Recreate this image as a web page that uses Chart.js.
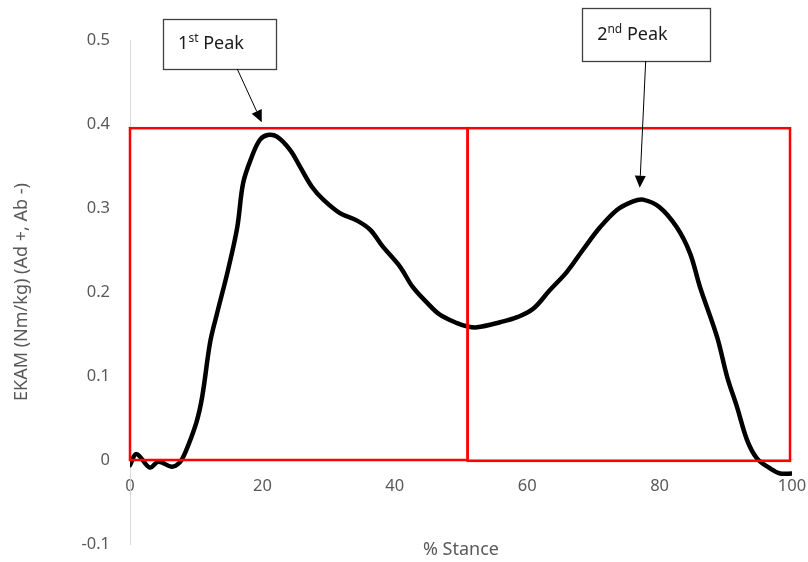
<!DOCTYPE html>
<html><head><meta charset="utf-8">
<script src="https://cdn.jsdelivr.net/npm/chart.js@4.4.1/dist/chart.umd.min.js"></script>
<style>html,body{margin:0;padding:0;background:#fff}canvas{display:block}</style>
</head><body>
<canvas id="c" width="808" height="562"></canvas>
<script>
// ---- data ----
const stance = [0, 1, 3, 4.3, 6.3, 7.5, 8.3, 10, 10.9, 12.1, 13.1, 14.8, 16.2, 17.1, 18.4, 19.6, 20.8, 22.2, 24.2, 25.7, 27.5, 29.2, 31.7, 34.3, 36.3, 38.2, 40.8, 42.7, 44.9, 46.8, 49.4, 51, 52.4, 55.9, 58.5, 60.9, 63.4, 66, 68.4, 71, 73.6, 76, 77.5, 80, 82.6, 84.6, 86.1, 88.7, 90.2, 91.7, 93.2, 94.7, 96.7, 98.2, 100];
const ekam = [-0.006, 0.007, -0.009, -0.002, -0.008, -0.003, 0.008, 0.044, 0.075, 0.140, 0.173, 0.226, 0.277, 0.330, 0.361, 0.381, 0.387, 0.385, 0.369, 0.349, 0.325, 0.310, 0.294, 0.285, 0.274, 0.254, 0.230, 0.206, 0.187, 0.173, 0.163, 0.159, 0.158, 0.164, 0.170, 0.180, 0.202, 0.224, 0.250, 0.277, 0.298, 0.308, 0.310, 0.301, 0.277, 0.246, 0.206, 0.146, 0.099, 0.063, 0.024, 0.002, -0.010, -0.016, -0.016];
const xTicks = [0, 20, 40, 60, 80, 100];
const xTickLabels = ['0', '20', '40', '60', '80', '100'];
const yTicks = [-0.1, 0, 0.1, 0.2, 0.3, 0.4, 0.5];
const yTickLabels = ['-0.1', '0', '0.1', '0.2', '0.3', '0.4', '0.5'];
const xTitle = '% Stance';
const yTitle = 'EKAM (Nm/kg) (Ad +, Ab -)';
// phase boxes in data units
const phaseFrom = [0, 51];
const phaseTo = [51, 99.7];
const phaseLow = [0, -0.001];
const phaseHigh = [0.395, 0.395];
// callouts (data units)
const calloutMain = ['1', '2'];
const calloutSup = ['st', 'nd'];
const calloutRest = [' Peak', ' Peak'];
const calloutX0 = [5.0, 68.3];
const calloutX1 = [22.05, 87.6];
const calloutY0 = [0.525, 0.538];
const calloutY1 = [0.4655, 0.475];
const arrowFromX = [16.2, 77.9];
const arrowFromY = [0.4655, 0.475];
const arrowToX = [19.9, 77.0];
const arrowToY = [0.402, 0.324];

const FONT = "'Noto Sans', 'Open Sans', sans-serif";
const points = stance.map((x, i) => ({x: x, y: ekam[i]}));

const annot = {
  id: 'annot',
  afterDatasetsDraw(chart) {
    const ctx = chart.ctx, xs = chart.scales.x, ys = chart.scales.y;
    ctx.save();
    ctx.strokeStyle = '#ff0000';
    ctx.lineWidth = 2.5;
    for (let i = 0; i < phaseFrom.length; i++) {
      const l = xs.getPixelForValue(phaseFrom[i]), r = xs.getPixelForValue(phaseTo[i]);
      const t = ys.getPixelForValue(phaseHigh[i]), b = ys.getPixelForValue(phaseLow[i]);
      ctx.strokeRect(l, t, r - l, b - t);
    }
    ctx.restore();
  },
  afterDraw(chart) {
    const ctx = chart.ctx, xs = chart.scales.x, ys = chart.scales.y;
    ctx.save();
    for (let i = 0; i < calloutMain.length; i++) {
      const l = xs.getPixelForValue(calloutX0[i]), r = xs.getPixelForValue(calloutX1[i]);
      const t = ys.getPixelForValue(calloutY0[i]), b = ys.getPixelForValue(calloutY1[i]);
      ctx.fillStyle = '#fff';
      ctx.fillRect(l, t, r - l, b - t);
      ctx.strokeStyle = '#404040';
      ctx.lineWidth = 1.3;
      ctx.strokeRect(Math.round(l) + 0.5, Math.round(t) + 0.5, Math.round(r - l), Math.round(b - t));
      const cy = (t + b) / 2;
      let tx = l + 15;
      const base = cy + 5;
      ctx.fillStyle = '#1a1a1a';
      ctx.textBaseline = 'alphabetic';
      ctx.textAlign = 'left';
      ctx.font = '18px ' + FONT;
      ctx.fillText(calloutMain[i], tx, base);
      tx += ctx.measureText(calloutMain[i]).width;
      ctx.font = '12px ' + FONT;
      ctx.fillText(calloutSup[i], tx, base - 7);
      tx += ctx.measureText(calloutSup[i]).width;
      ctx.font = '18px ' + FONT;
      ctx.fillText(calloutRest[i], tx, base);
      const x0 = xs.getPixelForValue(arrowFromX[i]), y0 = ys.getPixelForValue(arrowFromY[i]);
      const x1 = xs.getPixelForValue(arrowToX[i]), y1 = ys.getPixelForValue(arrowToY[i]);
      const ang = Math.atan2(y1 - y0, x1 - x0);
      const hl = 12, hw = 5.5;
      const bx = x1 - hl * Math.cos(ang), by = y1 - hl * Math.sin(ang);
      ctx.strokeStyle = '#000';
      ctx.lineWidth = 1;
      ctx.beginPath(); ctx.moveTo(x0, y0); ctx.lineTo(bx, by); ctx.stroke();
      ctx.fillStyle = '#000';
      ctx.beginPath();
      ctx.moveTo(x1, y1);
      ctx.lineTo(bx + hw * Math.sin(ang), by - hw * Math.cos(ang));
      ctx.lineTo(bx - hw * Math.sin(ang), by + hw * Math.cos(ang));
      ctx.closePath(); ctx.fill();
    }
    ctx.restore();
  }
};

new Chart(document.getElementById('c'), {
  type: 'line',
  data: {
    datasets: [{
      data: points,
      borderColor: '#000',
      borderWidth: 4.5,
      borderCapStyle: 'round',
      borderJoinStyle: 'round',
      pointRadius: 0,
      fill: false,
      tension: 0.35
    }]
  },
  options: {
    responsive: false,
    animation: false,
    events: [],
    layout: {padding: {top: 40, right: 16, bottom: 0, left: 0}},
    plugins: {legend: {display: false}, tooltip: {enabled: false}},
    scales: {
      x: {
        type: 'linear',
        position: {y: 0},
        min: 0, max: 100,
        afterBuildTicks(s) { s.ticks = xTicks.map(v => ({value: v})); },
        afterFit(s) { s.paddingLeft = 0; s.paddingRight = 0; s.paddingTop = 0; s.paddingBottom = 0; },
        ticks: {
          color: '#595959', padding: 16, maxRotation: 0,
          font: {family: FONT, size: 16.5},
          callback(v) { const k = xTicks.indexOf(v); return k >= 0 ? xTickLabels[k] : ''; }
        },
        grid: {display: false, drawTicks: false},
        border: {display: true, color: '#d9d9d9', width: 1}
      },
      x2: {
        type: 'linear',
        position: 'bottom',
        axis: 'x',
        min: 0, max: 100,
        ticks: {display: false},
        grid: {display: false, drawTicks: false},
        border: {display: false},
        title: {display: true, text: xTitle, color: '#595959', font: {family: FONT, size: 18, lineHeight: 1.2}, padding: {top: 0, bottom: 1}},
        afterFit(s) { s.height = 18; s.paddingLeft = 0; s.paddingRight = 0; }
      },
      y: {
        type: 'linear',
        position: 'left',
        min: -0.1, max: 0.5,
        afterBuildTicks(s) { s.ticks = yTicks.map(v => ({value: v})); },
        ticks: {
          color: '#595959', padding: 20,
          font: {family: FONT, size: 16.5},
          callback(v) { const k = yTicks.findIndex(t => Math.abs(t - v) < 1e-9); return k >= 0 ? yTickLabels[k] : ''; }
        },
        grid: {display: false, drawTicks: false},
        border: {display: true, color: '#d9d9d9', width: 1},
        title: {display: true, text: yTitle, color: '#595959', font: {family: FONT, size: 18, lineHeight: 1.2}, padding: {top: 11, bottom: 0}},
        afterFit(s) { s.width = 130; s.paddingTop = 0; s.paddingBottom = 0; }
      }
    }
  },
  plugins: [annot]
});
</script>
</body></html>
